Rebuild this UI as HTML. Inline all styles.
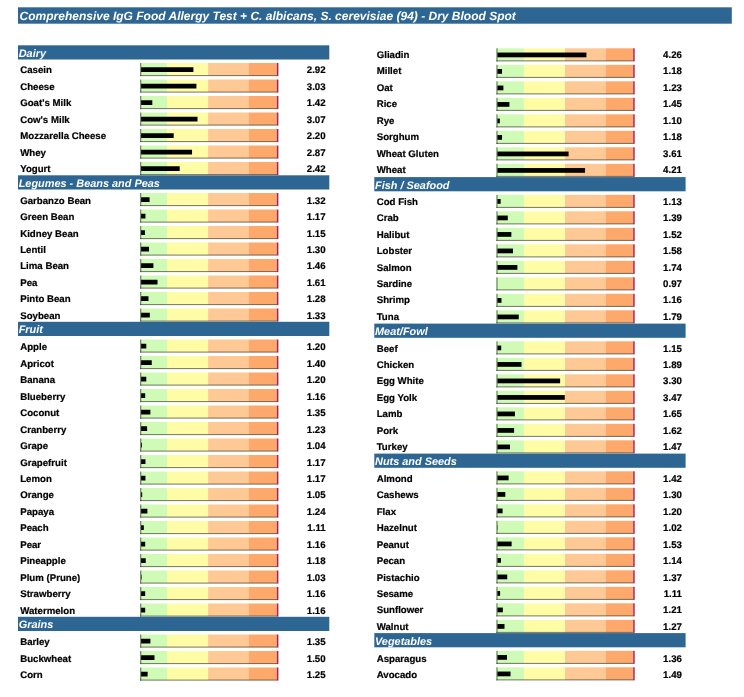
<!DOCTYPE html>
<html lang="en"><head><meta charset="utf-8"><title>Comprehensive IgG Food Allergy Test</title>
<style>
html,body{margin:0;padding:0;background:#fff;}
body{width:744px;height:697px;overflow:hidden;}
svg{display:block;position:absolute;left:0;top:0;font-family:"Liberation Sans",Arial,sans-serif;font-weight:bold;text-rendering:geometricPrecision;}
.t{font-size:12.0px;font-style:italic;fill:#fff;}
.h{font-size:10.92px;font-style:italic;fill:#fff;}
.l{font-size:9.67px;fill:#000;stroke:#000;stroke-width:0.2px;}
.v{font-size:9.67px;fill:#000;text-anchor:end;stroke:#000;stroke-width:0.2px;}
</style></head>
<body>
<svg width="744" height="697" viewBox="0 0 744 697">
<rect x="18" y="7.3" width="713.8" height="16.4" fill="#2e6693"/>
<text class="t" x="19.6" y="20">Comprehensive IgG Food Allergy Test + C. albicans, S. cerevisiae (94) - Dry Blood Spot</text>
<rect x="18.0" y="45.30" width="311.3" height="14.2" fill="#2e6693"/>
<text class="h" x="18.7" y="57">Dairy</text>
<rect x="140.4" y="63.00" width="26.65" height="12.60" fill="#d0fbb7"/><rect x="167.0" y="63.00" width="41.10" height="12.60" fill="#fffca6"/><rect x="208.1" y="63.00" width="40.90" height="12.60" fill="#fec994"/><rect x="248.9" y="63.00" width="28.15" height="12.60" fill="#fea96c"/><rect x="276.9" y="63.00" width="1.5" height="13.10" fill="#a4245f"/><rect x="140.0" y="75.10" width="137.0" height="1" fill="rgba(20,20,10,0.58)"/><rect x="140.0" y="63.00" width="1.3" height="13.10" fill="rgba(30,50,20,0.55)"/><rect x="141.1" y="67.25" width="52.31" height="4.75" fill="#000"/>
<text class="l" x="20.2" y="73">Casein</text>
<text class="v" x="325.6" y="73">2.92</text>
<rect x="140.4" y="79.50" width="26.65" height="12.60" fill="#d0fbb7"/><rect x="167.0" y="79.50" width="41.10" height="12.60" fill="#fffca6"/><rect x="208.1" y="79.50" width="40.90" height="12.60" fill="#fec994"/><rect x="248.9" y="79.50" width="28.15" height="12.60" fill="#fea96c"/><rect x="276.9" y="79.50" width="1.5" height="13.10" fill="#a4245f"/><rect x="140.0" y="91.60" width="137.0" height="1" fill="rgba(20,20,10,0.58)"/><rect x="140.0" y="79.50" width="1.3" height="13.10" fill="rgba(30,50,20,0.55)"/><rect x="141.1" y="83.75" width="55.32" height="4.75" fill="#000"/>
<text class="l" x="20.2" y="90">Cheese</text>
<text class="v" x="325.6" y="90">3.03</text>
<rect x="140.4" y="96.00" width="26.65" height="12.60" fill="#d0fbb7"/><rect x="167.0" y="96.00" width="41.10" height="12.60" fill="#fffca6"/><rect x="208.1" y="96.00" width="40.90" height="12.60" fill="#fec994"/><rect x="248.9" y="96.00" width="28.15" height="12.60" fill="#fea96c"/><rect x="276.9" y="96.00" width="1.5" height="13.10" fill="#a4245f"/><rect x="140.0" y="108.10" width="137.0" height="1" fill="rgba(20,20,10,0.58)"/><rect x="140.0" y="96.00" width="1.3" height="13.10" fill="rgba(30,50,20,0.55)"/><rect x="141.1" y="100.25" width="11.21" height="4.75" fill="#000"/>
<text class="l" x="20.2" y="106">Goat's Milk</text>
<text class="v" x="325.6" y="106">1.42</text>
<rect x="140.4" y="112.50" width="26.65" height="12.60" fill="#d0fbb7"/><rect x="167.0" y="112.50" width="41.10" height="12.60" fill="#fffca6"/><rect x="208.1" y="112.50" width="40.90" height="12.60" fill="#fec994"/><rect x="248.9" y="112.50" width="28.15" height="12.60" fill="#fea96c"/><rect x="276.9" y="112.50" width="1.5" height="13.10" fill="#a4245f"/><rect x="140.0" y="124.60" width="137.0" height="1" fill="rgba(20,20,10,0.58)"/><rect x="140.0" y="112.50" width="1.3" height="13.10" fill="rgba(30,50,20,0.55)"/><rect x="141.1" y="116.75" width="56.42" height="4.75" fill="#000"/>
<text class="l" x="20.2" y="123">Cow's Milk</text>
<text class="v" x="325.6" y="123">3.07</text>
<rect x="140.4" y="129.00" width="26.65" height="12.60" fill="#d0fbb7"/><rect x="167.0" y="129.00" width="41.10" height="12.60" fill="#fffca6"/><rect x="208.1" y="129.00" width="40.90" height="12.60" fill="#fec994"/><rect x="248.9" y="129.00" width="28.15" height="12.60" fill="#fea96c"/><rect x="276.9" y="129.00" width="1.5" height="13.10" fill="#a4245f"/><rect x="140.0" y="141.10" width="137.0" height="1" fill="rgba(20,20,10,0.58)"/><rect x="140.0" y="129.00" width="1.3" height="13.10" fill="rgba(30,50,20,0.55)"/><rect x="141.1" y="133.25" width="32.58" height="4.75" fill="#000"/>
<text class="l" x="20.2" y="139">Mozzarella Cheese</text>
<text class="v" x="325.6" y="139">2.20</text>
<rect x="140.4" y="145.50" width="26.65" height="12.60" fill="#d0fbb7"/><rect x="167.0" y="145.50" width="41.10" height="12.60" fill="#fffca6"/><rect x="208.1" y="145.50" width="40.90" height="12.60" fill="#fec994"/><rect x="248.9" y="145.50" width="28.15" height="12.60" fill="#fea96c"/><rect x="276.9" y="145.50" width="1.5" height="13.10" fill="#a4245f"/><rect x="140.0" y="157.60" width="137.0" height="1" fill="rgba(20,20,10,0.58)"/><rect x="140.0" y="145.50" width="1.3" height="13.10" fill="rgba(30,50,20,0.55)"/><rect x="141.1" y="149.75" width="50.94" height="4.75" fill="#000"/>
<text class="l" x="20.2" y="156">Whey</text>
<text class="v" x="325.6" y="156">2.87</text>
<rect x="140.4" y="162.00" width="26.65" height="12.60" fill="#d0fbb7"/><rect x="167.0" y="162.00" width="41.10" height="12.60" fill="#fffca6"/><rect x="208.1" y="162.00" width="40.90" height="12.60" fill="#fec994"/><rect x="248.9" y="162.00" width="28.15" height="12.60" fill="#fea96c"/><rect x="276.9" y="162.00" width="1.5" height="13.10" fill="#a4245f"/><rect x="140.0" y="174.10" width="137.0" height="1" fill="rgba(20,20,10,0.58)"/><rect x="140.0" y="162.00" width="1.3" height="13.10" fill="rgba(30,50,20,0.55)"/><rect x="141.1" y="166.25" width="38.61" height="4.75" fill="#000"/>
<text class="l" x="20.2" y="172">Yogurt</text>
<text class="v" x="325.6" y="172">2.42</text>
<rect x="18.0" y="175.30" width="311.3" height="14.2" fill="#2e6693"/>
<text class="h" x="18.7" y="187">Legumes - Beans and Peas</text>
<rect x="140.4" y="193.00" width="26.65" height="12.60" fill="#d0fbb7"/><rect x="167.0" y="193.00" width="41.10" height="12.60" fill="#fffca6"/><rect x="208.1" y="193.00" width="40.90" height="12.60" fill="#fec994"/><rect x="248.9" y="193.00" width="28.15" height="12.60" fill="#fea96c"/><rect x="276.9" y="193.00" width="1.5" height="13.10" fill="#a4245f"/><rect x="140.0" y="205.10" width="137.0" height="1" fill="rgba(20,20,10,0.58)"/><rect x="140.0" y="193.00" width="1.3" height="13.10" fill="rgba(30,50,20,0.55)"/><rect x="141.1" y="197.25" width="8.47" height="4.75" fill="#000"/>
<text class="l" x="20.2" y="204">Garbanzo Bean</text>
<text class="v" x="325.6" y="204">1.32</text>
<rect x="140.4" y="209.50" width="26.65" height="12.60" fill="#d0fbb7"/><rect x="167.0" y="209.50" width="41.10" height="12.60" fill="#fffca6"/><rect x="208.1" y="209.50" width="40.90" height="12.60" fill="#fec994"/><rect x="248.9" y="209.50" width="28.15" height="12.60" fill="#fea96c"/><rect x="276.9" y="209.50" width="1.5" height="13.10" fill="#a4245f"/><rect x="140.0" y="221.60" width="137.0" height="1" fill="rgba(20,20,10,0.58)"/><rect x="140.0" y="209.50" width="1.3" height="13.10" fill="rgba(30,50,20,0.55)"/><rect x="141.1" y="213.75" width="4.36" height="4.75" fill="#000"/>
<text class="l" x="20.2" y="220">Green Bean</text>
<text class="v" x="325.6" y="220">1.17</text>
<rect x="140.4" y="226.00" width="26.65" height="12.60" fill="#d0fbb7"/><rect x="167.0" y="226.00" width="41.10" height="12.60" fill="#fffca6"/><rect x="208.1" y="226.00" width="40.90" height="12.60" fill="#fec994"/><rect x="248.9" y="226.00" width="28.15" height="12.60" fill="#fea96c"/><rect x="276.9" y="226.00" width="1.5" height="13.10" fill="#a4245f"/><rect x="140.0" y="238.10" width="137.0" height="1" fill="rgba(20,20,10,0.58)"/><rect x="140.0" y="226.00" width="1.3" height="13.10" fill="rgba(30,50,20,0.55)"/><rect x="141.1" y="230.25" width="3.81" height="4.75" fill="#000"/>
<text class="l" x="20.2" y="237">Kidney Bean</text>
<text class="v" x="325.6" y="237">1.15</text>
<rect x="140.4" y="242.50" width="26.65" height="12.60" fill="#d0fbb7"/><rect x="167.0" y="242.50" width="41.10" height="12.60" fill="#fffca6"/><rect x="208.1" y="242.50" width="40.90" height="12.60" fill="#fec994"/><rect x="248.9" y="242.50" width="28.15" height="12.60" fill="#fea96c"/><rect x="276.9" y="242.50" width="1.5" height="13.10" fill="#a4245f"/><rect x="140.0" y="254.60" width="137.0" height="1" fill="rgba(20,20,10,0.58)"/><rect x="140.0" y="242.50" width="1.3" height="13.10" fill="rgba(30,50,20,0.55)"/><rect x="141.1" y="246.75" width="7.92" height="4.75" fill="#000"/>
<text class="l" x="20.2" y="253">Lentil</text>
<text class="v" x="325.6" y="253">1.30</text>
<rect x="140.4" y="259.00" width="26.65" height="12.60" fill="#d0fbb7"/><rect x="167.0" y="259.00" width="41.10" height="12.60" fill="#fffca6"/><rect x="208.1" y="259.00" width="40.90" height="12.60" fill="#fec994"/><rect x="248.9" y="259.00" width="28.15" height="12.60" fill="#fea96c"/><rect x="276.9" y="259.00" width="1.5" height="13.10" fill="#a4245f"/><rect x="140.0" y="271.10" width="137.0" height="1" fill="rgba(20,20,10,0.58)"/><rect x="140.0" y="259.00" width="1.3" height="13.10" fill="rgba(30,50,20,0.55)"/><rect x="141.1" y="263.25" width="12.30" height="4.75" fill="#000"/>
<text class="l" x="20.2" y="269">Lima Bean</text>
<text class="v" x="325.6" y="269">1.46</text>
<rect x="140.4" y="275.50" width="26.65" height="12.60" fill="#d0fbb7"/><rect x="167.0" y="275.50" width="41.10" height="12.60" fill="#fffca6"/><rect x="208.1" y="275.50" width="40.90" height="12.60" fill="#fec994"/><rect x="248.9" y="275.50" width="28.15" height="12.60" fill="#fea96c"/><rect x="276.9" y="275.50" width="1.5" height="13.10" fill="#a4245f"/><rect x="140.0" y="287.60" width="137.0" height="1" fill="rgba(20,20,10,0.58)"/><rect x="140.0" y="275.50" width="1.3" height="13.10" fill="rgba(30,50,20,0.55)"/><rect x="141.1" y="279.75" width="16.41" height="4.75" fill="#000"/>
<text class="l" x="20.2" y="286">Pea</text>
<text class="v" x="325.6" y="286">1.61</text>
<rect x="140.4" y="292.00" width="26.65" height="12.60" fill="#d0fbb7"/><rect x="167.0" y="292.00" width="41.10" height="12.60" fill="#fffca6"/><rect x="208.1" y="292.00" width="40.90" height="12.60" fill="#fec994"/><rect x="248.9" y="292.00" width="28.15" height="12.60" fill="#fea96c"/><rect x="276.9" y="292.00" width="1.5" height="13.10" fill="#a4245f"/><rect x="140.0" y="304.10" width="137.0" height="1" fill="rgba(20,20,10,0.58)"/><rect x="140.0" y="292.00" width="1.3" height="13.10" fill="rgba(30,50,20,0.55)"/><rect x="141.1" y="296.25" width="7.37" height="4.75" fill="#000"/>
<text class="l" x="20.2" y="302">Pinto Bean</text>
<text class="v" x="325.6" y="302">1.28</text>
<rect x="140.4" y="308.50" width="26.65" height="12.60" fill="#d0fbb7"/><rect x="167.0" y="308.50" width="41.10" height="12.60" fill="#fffca6"/><rect x="208.1" y="308.50" width="40.90" height="12.60" fill="#fec994"/><rect x="248.9" y="308.50" width="28.15" height="12.60" fill="#fea96c"/><rect x="276.9" y="308.50" width="1.5" height="13.10" fill="#a4245f"/><rect x="140.0" y="320.60" width="137.0" height="1" fill="rgba(20,20,10,0.58)"/><rect x="140.0" y="308.50" width="1.3" height="13.10" fill="rgba(30,50,20,0.55)"/><rect x="141.1" y="312.75" width="8.74" height="4.75" fill="#000"/>
<text class="l" x="20.2" y="319">Soybean</text>
<text class="v" x="325.6" y="319">1.33</text>
<rect x="18.0" y="321.80" width="311.3" height="14.2" fill="#2e6693"/>
<text class="h" x="18.7" y="333">Fruit</text>
<rect x="140.4" y="339.50" width="26.65" height="12.60" fill="#d0fbb7"/><rect x="167.0" y="339.50" width="41.10" height="12.60" fill="#fffca6"/><rect x="208.1" y="339.50" width="40.90" height="12.60" fill="#fec994"/><rect x="248.9" y="339.50" width="28.15" height="12.60" fill="#fea96c"/><rect x="276.9" y="339.50" width="1.5" height="13.10" fill="#a4245f"/><rect x="140.0" y="351.60" width="137.0" height="1" fill="rgba(20,20,10,0.58)"/><rect x="140.0" y="339.50" width="1.3" height="13.10" fill="rgba(30,50,20,0.55)"/><rect x="141.1" y="343.75" width="5.18" height="4.75" fill="#000"/>
<text class="l" x="20.2" y="350">Apple</text>
<text class="v" x="325.6" y="350">1.20</text>
<rect x="140.4" y="356.00" width="26.65" height="12.60" fill="#d0fbb7"/><rect x="167.0" y="356.00" width="41.10" height="12.60" fill="#fffca6"/><rect x="208.1" y="356.00" width="40.90" height="12.60" fill="#fec994"/><rect x="248.9" y="356.00" width="28.15" height="12.60" fill="#fea96c"/><rect x="276.9" y="356.00" width="1.5" height="13.10" fill="#a4245f"/><rect x="140.0" y="368.10" width="137.0" height="1" fill="rgba(20,20,10,0.58)"/><rect x="140.0" y="356.00" width="1.3" height="13.10" fill="rgba(30,50,20,0.55)"/><rect x="141.1" y="360.25" width="10.66" height="4.75" fill="#000"/>
<text class="l" x="20.2" y="367">Apricot</text>
<text class="v" x="325.6" y="367">1.40</text>
<rect x="140.4" y="372.50" width="26.65" height="12.60" fill="#d0fbb7"/><rect x="167.0" y="372.50" width="41.10" height="12.60" fill="#fffca6"/><rect x="208.1" y="372.50" width="40.90" height="12.60" fill="#fec994"/><rect x="248.9" y="372.50" width="28.15" height="12.60" fill="#fea96c"/><rect x="276.9" y="372.50" width="1.5" height="13.10" fill="#a4245f"/><rect x="140.0" y="384.60" width="137.0" height="1" fill="rgba(20,20,10,0.58)"/><rect x="140.0" y="372.50" width="1.3" height="13.10" fill="rgba(30,50,20,0.55)"/><rect x="141.1" y="376.75" width="5.18" height="4.75" fill="#000"/>
<text class="l" x="20.2" y="383">Banana</text>
<text class="v" x="325.6" y="383">1.20</text>
<rect x="140.4" y="389.00" width="26.65" height="12.60" fill="#d0fbb7"/><rect x="167.0" y="389.00" width="41.10" height="12.60" fill="#fffca6"/><rect x="208.1" y="389.00" width="40.90" height="12.60" fill="#fec994"/><rect x="248.9" y="389.00" width="28.15" height="12.60" fill="#fea96c"/><rect x="276.9" y="389.00" width="1.5" height="13.10" fill="#a4245f"/><rect x="140.0" y="401.10" width="137.0" height="1" fill="rgba(20,20,10,0.58)"/><rect x="140.0" y="389.00" width="1.3" height="13.10" fill="rgba(30,50,20,0.55)"/><rect x="141.1" y="393.25" width="4.08" height="4.75" fill="#000"/>
<text class="l" x="20.2" y="400">Blueberry</text>
<text class="v" x="325.6" y="400">1.16</text>
<rect x="140.4" y="405.50" width="26.65" height="12.60" fill="#d0fbb7"/><rect x="167.0" y="405.50" width="41.10" height="12.60" fill="#fffca6"/><rect x="208.1" y="405.50" width="40.90" height="12.60" fill="#fec994"/><rect x="248.9" y="405.50" width="28.15" height="12.60" fill="#fea96c"/><rect x="276.9" y="405.50" width="1.5" height="13.10" fill="#a4245f"/><rect x="140.0" y="417.60" width="137.0" height="1" fill="rgba(20,20,10,0.58)"/><rect x="140.0" y="405.50" width="1.3" height="13.10" fill="rgba(30,50,20,0.55)"/><rect x="141.1" y="409.75" width="9.29" height="4.75" fill="#000"/>
<text class="l" x="20.2" y="416">Coconut</text>
<text class="v" x="325.6" y="416">1.35</text>
<rect x="140.4" y="422.00" width="26.65" height="12.60" fill="#d0fbb7"/><rect x="167.0" y="422.00" width="41.10" height="12.60" fill="#fffca6"/><rect x="208.1" y="422.00" width="40.90" height="12.60" fill="#fec994"/><rect x="248.9" y="422.00" width="28.15" height="12.60" fill="#fea96c"/><rect x="276.9" y="422.00" width="1.5" height="13.10" fill="#a4245f"/><rect x="140.0" y="434.10" width="137.0" height="1" fill="rgba(20,20,10,0.58)"/><rect x="140.0" y="422.00" width="1.3" height="13.10" fill="rgba(30,50,20,0.55)"/><rect x="141.1" y="426.25" width="6.00" height="4.75" fill="#000"/>
<text class="l" x="20.2" y="433">Cranberry</text>
<text class="v" x="325.6" y="433">1.23</text>
<rect x="140.4" y="438.50" width="26.65" height="12.60" fill="#d0fbb7"/><rect x="167.0" y="438.50" width="41.10" height="12.60" fill="#fffca6"/><rect x="208.1" y="438.50" width="40.90" height="12.60" fill="#fec994"/><rect x="248.9" y="438.50" width="28.15" height="12.60" fill="#fea96c"/><rect x="276.9" y="438.50" width="1.5" height="13.10" fill="#a4245f"/><rect x="140.0" y="450.60" width="137.0" height="1" fill="rgba(20,20,10,0.58)"/><rect x="140.0" y="438.50" width="1.3" height="13.10" fill="rgba(30,50,20,0.55)"/><rect x="141.1" y="442.75" width="0.80" height="4.75" fill="#000"/>
<text class="l" x="20.2" y="449">Grape</text>
<text class="v" x="325.6" y="449">1.04</text>
<rect x="140.4" y="455.00" width="26.65" height="12.60" fill="#d0fbb7"/><rect x="167.0" y="455.00" width="41.10" height="12.60" fill="#fffca6"/><rect x="208.1" y="455.00" width="40.90" height="12.60" fill="#fec994"/><rect x="248.9" y="455.00" width="28.15" height="12.60" fill="#fea96c"/><rect x="276.9" y="455.00" width="1.5" height="13.10" fill="#a4245f"/><rect x="140.0" y="467.10" width="137.0" height="1" fill="rgba(20,20,10,0.58)"/><rect x="140.0" y="455.00" width="1.3" height="13.10" fill="rgba(30,50,20,0.55)"/><rect x="141.1" y="459.25" width="4.36" height="4.75" fill="#000"/>
<text class="l" x="20.2" y="466">Grapefruit</text>
<text class="v" x="325.6" y="466">1.17</text>
<rect x="140.4" y="471.50" width="26.65" height="12.60" fill="#d0fbb7"/><rect x="167.0" y="471.50" width="41.10" height="12.60" fill="#fffca6"/><rect x="208.1" y="471.50" width="40.90" height="12.60" fill="#fec994"/><rect x="248.9" y="471.50" width="28.15" height="12.60" fill="#fea96c"/><rect x="276.9" y="471.50" width="1.5" height="13.10" fill="#a4245f"/><rect x="140.0" y="483.60" width="137.0" height="1" fill="rgba(20,20,10,0.58)"/><rect x="140.0" y="471.50" width="1.3" height="13.10" fill="rgba(30,50,20,0.55)"/><rect x="141.1" y="475.75" width="4.36" height="4.75" fill="#000"/>
<text class="l" x="20.2" y="482">Lemon</text>
<text class="v" x="325.6" y="482">1.17</text>
<rect x="140.4" y="488.00" width="26.65" height="12.60" fill="#d0fbb7"/><rect x="167.0" y="488.00" width="41.10" height="12.60" fill="#fffca6"/><rect x="208.1" y="488.00" width="40.90" height="12.60" fill="#fec994"/><rect x="248.9" y="488.00" width="28.15" height="12.60" fill="#fea96c"/><rect x="276.9" y="488.00" width="1.5" height="13.10" fill="#a4245f"/><rect x="140.0" y="500.10" width="137.0" height="1" fill="rgba(20,20,10,0.58)"/><rect x="140.0" y="488.00" width="1.3" height="13.10" fill="rgba(30,50,20,0.55)"/><rect x="141.1" y="492.25" width="1.07" height="4.75" fill="#000"/>
<text class="l" x="20.2" y="498">Orange</text>
<text class="v" x="325.6" y="498">1.05</text>
<rect x="140.4" y="504.50" width="26.65" height="12.60" fill="#d0fbb7"/><rect x="167.0" y="504.50" width="41.10" height="12.60" fill="#fffca6"/><rect x="208.1" y="504.50" width="40.90" height="12.60" fill="#fec994"/><rect x="248.9" y="504.50" width="28.15" height="12.60" fill="#fea96c"/><rect x="276.9" y="504.50" width="1.5" height="13.10" fill="#a4245f"/><rect x="140.0" y="516.60" width="137.0" height="1" fill="rgba(20,20,10,0.58)"/><rect x="140.0" y="504.50" width="1.3" height="13.10" fill="rgba(30,50,20,0.55)"/><rect x="141.1" y="508.75" width="6.28" height="4.75" fill="#000"/>
<text class="l" x="20.2" y="515">Papaya</text>
<text class="v" x="325.6" y="515">1.24</text>
<rect x="140.4" y="521.00" width="26.65" height="12.60" fill="#d0fbb7"/><rect x="167.0" y="521.00" width="41.10" height="12.60" fill="#fffca6"/><rect x="208.1" y="521.00" width="40.90" height="12.60" fill="#fec994"/><rect x="248.9" y="521.00" width="28.15" height="12.60" fill="#fea96c"/><rect x="276.9" y="521.00" width="1.5" height="13.10" fill="#a4245f"/><rect x="140.0" y="533.10" width="137.0" height="1" fill="rgba(20,20,10,0.58)"/><rect x="140.0" y="521.00" width="1.3" height="13.10" fill="rgba(30,50,20,0.55)"/><rect x="141.1" y="525.25" width="2.71" height="4.75" fill="#000"/>
<text class="l" x="20.2" y="531">Peach</text>
<text class="v" x="325.6" y="531">1.11</text>
<rect x="140.4" y="537.50" width="26.65" height="12.60" fill="#d0fbb7"/><rect x="167.0" y="537.50" width="41.10" height="12.60" fill="#fffca6"/><rect x="208.1" y="537.50" width="40.90" height="12.60" fill="#fec994"/><rect x="248.9" y="537.50" width="28.15" height="12.60" fill="#fea96c"/><rect x="276.9" y="537.50" width="1.5" height="13.10" fill="#a4245f"/><rect x="140.0" y="549.60" width="137.0" height="1" fill="rgba(20,20,10,0.58)"/><rect x="140.0" y="537.50" width="1.3" height="13.10" fill="rgba(30,50,20,0.55)"/><rect x="141.1" y="541.75" width="4.08" height="4.75" fill="#000"/>
<text class="l" x="20.2" y="548">Pear</text>
<text class="v" x="325.6" y="548">1.16</text>
<rect x="140.4" y="554.00" width="26.65" height="12.60" fill="#d0fbb7"/><rect x="167.0" y="554.00" width="41.10" height="12.60" fill="#fffca6"/><rect x="208.1" y="554.00" width="40.90" height="12.60" fill="#fec994"/><rect x="248.9" y="554.00" width="28.15" height="12.60" fill="#fea96c"/><rect x="276.9" y="554.00" width="1.5" height="13.10" fill="#a4245f"/><rect x="140.0" y="566.10" width="137.0" height="1" fill="rgba(20,20,10,0.58)"/><rect x="140.0" y="554.00" width="1.3" height="13.10" fill="rgba(30,50,20,0.55)"/><rect x="141.1" y="558.25" width="4.63" height="4.75" fill="#000"/>
<text class="l" x="20.2" y="564">Pineapple</text>
<text class="v" x="325.6" y="564">1.18</text>
<rect x="140.4" y="570.50" width="26.65" height="12.60" fill="#d0fbb7"/><rect x="167.0" y="570.50" width="41.10" height="12.60" fill="#fffca6"/><rect x="208.1" y="570.50" width="40.90" height="12.60" fill="#fec994"/><rect x="248.9" y="570.50" width="28.15" height="12.60" fill="#fea96c"/><rect x="276.9" y="570.50" width="1.5" height="13.10" fill="#a4245f"/><rect x="140.0" y="582.60" width="137.0" height="1" fill="rgba(20,20,10,0.58)"/><rect x="140.0" y="570.50" width="1.3" height="13.10" fill="rgba(30,50,20,0.55)"/><rect x="141.1" y="574.75" width="0.52" height="4.75" fill="#000"/>
<text class="l" x="20.2" y="581">Plum (Prune)</text>
<text class="v" x="325.6" y="581">1.03</text>
<rect x="140.4" y="587.00" width="26.65" height="12.60" fill="#d0fbb7"/><rect x="167.0" y="587.00" width="41.10" height="12.60" fill="#fffca6"/><rect x="208.1" y="587.00" width="40.90" height="12.60" fill="#fec994"/><rect x="248.9" y="587.00" width="28.15" height="12.60" fill="#fea96c"/><rect x="276.9" y="587.00" width="1.5" height="13.10" fill="#a4245f"/><rect x="140.0" y="599.10" width="137.0" height="1" fill="rgba(20,20,10,0.58)"/><rect x="140.0" y="587.00" width="1.3" height="13.10" fill="rgba(30,50,20,0.55)"/><rect x="141.1" y="591.25" width="4.08" height="4.75" fill="#000"/>
<text class="l" x="20.2" y="597">Strawberry</text>
<text class="v" x="325.6" y="597">1.16</text>
<rect x="140.4" y="603.50" width="26.65" height="12.60" fill="#d0fbb7"/><rect x="167.0" y="603.50" width="41.10" height="12.60" fill="#fffca6"/><rect x="208.1" y="603.50" width="40.90" height="12.60" fill="#fec994"/><rect x="248.9" y="603.50" width="28.15" height="12.60" fill="#fea96c"/><rect x="276.9" y="603.50" width="1.5" height="13.10" fill="#a4245f"/><rect x="140.0" y="615.60" width="137.0" height="1" fill="rgba(20,20,10,0.58)"/><rect x="140.0" y="603.50" width="1.3" height="13.10" fill="rgba(30,50,20,0.55)"/><rect x="141.1" y="607.75" width="4.08" height="4.75" fill="#000"/>
<text class="l" x="20.2" y="614">Watermelon</text>
<text class="v" x="325.6" y="614">1.16</text>
<rect x="18.0" y="616.80" width="311.3" height="14.2" fill="#2e6693"/>
<text class="h" x="18.7" y="628">Grains</text>
<rect x="140.4" y="634.50" width="26.65" height="12.60" fill="#d0fbb7"/><rect x="167.0" y="634.50" width="41.10" height="12.60" fill="#fffca6"/><rect x="208.1" y="634.50" width="40.90" height="12.60" fill="#fec994"/><rect x="248.9" y="634.50" width="28.15" height="12.60" fill="#fea96c"/><rect x="276.9" y="634.50" width="1.5" height="13.10" fill="#a4245f"/><rect x="140.0" y="646.60" width="137.0" height="1" fill="rgba(20,20,10,0.58)"/><rect x="140.0" y="634.50" width="1.3" height="13.10" fill="rgba(30,50,20,0.55)"/><rect x="141.1" y="638.75" width="9.29" height="4.75" fill="#000"/>
<text class="l" x="20.2" y="645">Barley</text>
<text class="v" x="325.6" y="645">1.35</text>
<rect x="140.4" y="651.00" width="26.65" height="12.60" fill="#d0fbb7"/><rect x="167.0" y="651.00" width="41.10" height="12.60" fill="#fffca6"/><rect x="208.1" y="651.00" width="40.90" height="12.60" fill="#fec994"/><rect x="248.9" y="651.00" width="28.15" height="12.60" fill="#fea96c"/><rect x="276.9" y="651.00" width="1.5" height="13.10" fill="#a4245f"/><rect x="140.0" y="663.10" width="137.0" height="1" fill="rgba(20,20,10,0.58)"/><rect x="140.0" y="651.00" width="1.3" height="13.10" fill="rgba(30,50,20,0.55)"/><rect x="141.1" y="655.25" width="13.40" height="4.75" fill="#000"/>
<text class="l" x="20.2" y="662">Buckwheat</text>
<text class="v" x="325.6" y="662">1.50</text>
<rect x="140.4" y="667.50" width="26.65" height="12.60" fill="#d0fbb7"/><rect x="167.0" y="667.50" width="41.10" height="12.60" fill="#fffca6"/><rect x="208.1" y="667.50" width="40.90" height="12.60" fill="#fec994"/><rect x="248.9" y="667.50" width="28.15" height="12.60" fill="#fea96c"/><rect x="276.9" y="667.50" width="1.5" height="13.10" fill="#a4245f"/><rect x="140.0" y="679.60" width="137.0" height="1" fill="rgba(20,20,10,0.58)"/><rect x="140.0" y="667.50" width="1.3" height="13.10" fill="rgba(30,50,20,0.55)"/><rect x="141.1" y="671.75" width="6.55" height="4.75" fill="#000"/>
<text class="l" x="20.2" y="678">Corn</text>
<text class="v" x="325.6" y="678">1.25</text>
<rect x="496.7" y="48.30" width="27.25" height="12.60" fill="#d0fbb7"/><rect x="523.9" y="48.30" width="41.10" height="12.60" fill="#fffca6"/><rect x="565.0" y="48.30" width="40.90" height="12.60" fill="#fec994"/><rect x="605.8" y="48.30" width="27.55" height="12.60" fill="#fea96c"/><rect x="633.2" y="48.30" width="1.5" height="13.10" fill="#a4245f"/><rect x="496.3" y="60.40" width="137.0" height="1" fill="rgba(20,20,10,0.58)"/><rect x="496.3" y="48.30" width="1.3" height="13.10" fill="rgba(30,50,20,0.55)"/><rect x="497.4" y="52.55" width="89.02" height="4.75" fill="#000"/>
<text class="l" x="376.7" y="58">Gliadin</text>
<text class="v" x="681.9" y="58">4.26</text>
<rect x="496.7" y="64.80" width="27.25" height="12.60" fill="#d0fbb7"/><rect x="523.9" y="64.80" width="41.10" height="12.60" fill="#fffca6"/><rect x="565.0" y="64.80" width="40.90" height="12.60" fill="#fec994"/><rect x="605.8" y="64.80" width="27.55" height="12.60" fill="#fea96c"/><rect x="633.2" y="64.80" width="1.5" height="13.10" fill="#a4245f"/><rect x="496.3" y="76.90" width="137.0" height="1" fill="rgba(20,20,10,0.58)"/><rect x="496.3" y="64.80" width="1.3" height="13.10" fill="rgba(30,50,20,0.55)"/><rect x="497.4" y="69.05" width="4.63" height="4.75" fill="#000"/>
<text class="l" x="376.7" y="74">Millet</text>
<text class="v" x="681.9" y="74">1.18</text>
<rect x="496.7" y="81.30" width="27.25" height="12.60" fill="#d0fbb7"/><rect x="523.9" y="81.30" width="41.10" height="12.60" fill="#fffca6"/><rect x="565.0" y="81.30" width="40.90" height="12.60" fill="#fec994"/><rect x="605.8" y="81.30" width="27.55" height="12.60" fill="#fea96c"/><rect x="633.2" y="81.30" width="1.5" height="13.10" fill="#a4245f"/><rect x="496.3" y="93.40" width="137.0" height="1" fill="rgba(20,20,10,0.58)"/><rect x="496.3" y="81.30" width="1.3" height="13.10" fill="rgba(30,50,20,0.55)"/><rect x="497.4" y="85.55" width="6.00" height="4.75" fill="#000"/>
<text class="l" x="376.7" y="91">Oat</text>
<text class="v" x="681.9" y="91">1.23</text>
<rect x="496.7" y="97.80" width="27.25" height="12.60" fill="#d0fbb7"/><rect x="523.9" y="97.80" width="41.10" height="12.60" fill="#fffca6"/><rect x="565.0" y="97.80" width="40.90" height="12.60" fill="#fec994"/><rect x="605.8" y="97.80" width="27.55" height="12.60" fill="#fea96c"/><rect x="633.2" y="97.80" width="1.5" height="13.10" fill="#a4245f"/><rect x="496.3" y="109.90" width="137.0" height="1" fill="rgba(20,20,10,0.58)"/><rect x="496.3" y="97.80" width="1.3" height="13.10" fill="rgba(30,50,20,0.55)"/><rect x="497.4" y="102.05" width="12.03" height="4.75" fill="#000"/>
<text class="l" x="376.7" y="107">Rice</text>
<text class="v" x="681.9" y="107">1.45</text>
<rect x="496.7" y="114.30" width="27.25" height="12.60" fill="#d0fbb7"/><rect x="523.9" y="114.30" width="41.10" height="12.60" fill="#fffca6"/><rect x="565.0" y="114.30" width="40.90" height="12.60" fill="#fec994"/><rect x="605.8" y="114.30" width="27.55" height="12.60" fill="#fea96c"/><rect x="633.2" y="114.30" width="1.5" height="13.10" fill="#a4245f"/><rect x="496.3" y="126.40" width="137.0" height="1" fill="rgba(20,20,10,0.58)"/><rect x="496.3" y="114.30" width="1.3" height="13.10" fill="rgba(30,50,20,0.55)"/><rect x="497.4" y="118.55" width="2.44" height="4.75" fill="#000"/>
<text class="l" x="376.7" y="124">Rye</text>
<text class="v" x="681.9" y="124">1.10</text>
<rect x="496.7" y="130.80" width="27.25" height="12.60" fill="#d0fbb7"/><rect x="523.9" y="130.80" width="41.10" height="12.60" fill="#fffca6"/><rect x="565.0" y="130.80" width="40.90" height="12.60" fill="#fec994"/><rect x="605.8" y="130.80" width="27.55" height="12.60" fill="#fea96c"/><rect x="633.2" y="130.80" width="1.5" height="13.10" fill="#a4245f"/><rect x="496.3" y="142.90" width="137.0" height="1" fill="rgba(20,20,10,0.58)"/><rect x="496.3" y="130.80" width="1.3" height="13.10" fill="rgba(30,50,20,0.55)"/><rect x="497.4" y="135.05" width="4.63" height="4.75" fill="#000"/>
<text class="l" x="376.7" y="140">Sorghum</text>
<text class="v" x="681.9" y="140">1.18</text>
<rect x="496.7" y="147.30" width="27.25" height="12.60" fill="#d0fbb7"/><rect x="523.9" y="147.30" width="41.10" height="12.60" fill="#fffca6"/><rect x="565.0" y="147.30" width="40.90" height="12.60" fill="#fec994"/><rect x="605.8" y="147.30" width="27.55" height="12.60" fill="#fea96c"/><rect x="633.2" y="147.30" width="1.5" height="13.10" fill="#a4245f"/><rect x="496.3" y="159.40" width="137.0" height="1" fill="rgba(20,20,10,0.58)"/><rect x="496.3" y="147.30" width="1.3" height="13.10" fill="rgba(30,50,20,0.55)"/><rect x="497.4" y="151.55" width="71.21" height="4.75" fill="#000"/>
<text class="l" x="376.7" y="157">Wheat Gluten</text>
<text class="v" x="681.9" y="157">3.61</text>
<rect x="496.7" y="163.80" width="27.25" height="12.60" fill="#d0fbb7"/><rect x="523.9" y="163.80" width="41.10" height="12.60" fill="#fffca6"/><rect x="565.0" y="163.80" width="40.90" height="12.60" fill="#fec994"/><rect x="605.8" y="163.80" width="27.55" height="12.60" fill="#fea96c"/><rect x="633.2" y="163.80" width="1.5" height="13.10" fill="#a4245f"/><rect x="496.3" y="175.90" width="137.0" height="1" fill="rgba(20,20,10,0.58)"/><rect x="496.3" y="163.80" width="1.3" height="13.10" fill="rgba(30,50,20,0.55)"/><rect x="497.4" y="168.05" width="87.65" height="4.75" fill="#000"/>
<text class="l" x="376.7" y="173">Wheat</text>
<text class="v" x="681.9" y="173">4.21</text>
<rect x="374.3" y="177.10" width="311.3" height="14.2" fill="#2e6693"/>
<text class="h" x="375.0" y="189">Fish / Seafood</text>
<rect x="496.7" y="194.80" width="27.25" height="12.60" fill="#d0fbb7"/><rect x="523.9" y="194.80" width="41.10" height="12.60" fill="#fffca6"/><rect x="565.0" y="194.80" width="40.90" height="12.60" fill="#fec994"/><rect x="605.8" y="194.80" width="27.55" height="12.60" fill="#fea96c"/><rect x="633.2" y="194.80" width="1.5" height="13.10" fill="#a4245f"/><rect x="496.3" y="206.90" width="137.0" height="1" fill="rgba(20,20,10,0.58)"/><rect x="496.3" y="194.80" width="1.3" height="13.10" fill="rgba(30,50,20,0.55)"/><rect x="497.4" y="199.05" width="3.26" height="4.75" fill="#000"/>
<text class="l" x="376.7" y="205">Cod Fish</text>
<text class="v" x="681.9" y="205">1.13</text>
<rect x="496.7" y="211.30" width="27.25" height="12.60" fill="#d0fbb7"/><rect x="523.9" y="211.30" width="41.10" height="12.60" fill="#fffca6"/><rect x="565.0" y="211.30" width="40.90" height="12.60" fill="#fec994"/><rect x="605.8" y="211.30" width="27.55" height="12.60" fill="#fea96c"/><rect x="633.2" y="211.30" width="1.5" height="13.10" fill="#a4245f"/><rect x="496.3" y="223.40" width="137.0" height="1" fill="rgba(20,20,10,0.58)"/><rect x="496.3" y="211.30" width="1.3" height="13.10" fill="rgba(30,50,20,0.55)"/><rect x="497.4" y="215.55" width="10.39" height="4.75" fill="#000"/>
<text class="l" x="376.7" y="221">Crab</text>
<text class="v" x="681.9" y="221">1.39</text>
<rect x="496.7" y="227.80" width="27.25" height="12.60" fill="#d0fbb7"/><rect x="523.9" y="227.80" width="41.10" height="12.60" fill="#fffca6"/><rect x="565.0" y="227.80" width="40.90" height="12.60" fill="#fec994"/><rect x="605.8" y="227.80" width="27.55" height="12.60" fill="#fea96c"/><rect x="633.2" y="227.80" width="1.5" height="13.10" fill="#a4245f"/><rect x="496.3" y="239.90" width="137.0" height="1" fill="rgba(20,20,10,0.58)"/><rect x="496.3" y="227.80" width="1.3" height="13.10" fill="rgba(30,50,20,0.55)"/><rect x="497.4" y="232.05" width="13.95" height="4.75" fill="#000"/>
<text class="l" x="376.7" y="238">Halibut</text>
<text class="v" x="681.9" y="238">1.52</text>
<rect x="496.7" y="244.30" width="27.25" height="12.60" fill="#d0fbb7"/><rect x="523.9" y="244.30" width="41.10" height="12.60" fill="#fffca6"/><rect x="565.0" y="244.30" width="40.90" height="12.60" fill="#fec994"/><rect x="605.8" y="244.30" width="27.55" height="12.60" fill="#fea96c"/><rect x="633.2" y="244.30" width="1.5" height="13.10" fill="#a4245f"/><rect x="496.3" y="256.40" width="137.0" height="1" fill="rgba(20,20,10,0.58)"/><rect x="496.3" y="244.30" width="1.3" height="13.10" fill="rgba(30,50,20,0.55)"/><rect x="497.4" y="248.55" width="15.59" height="4.75" fill="#000"/>
<text class="l" x="376.7" y="254">Lobster</text>
<text class="v" x="681.9" y="254">1.58</text>
<rect x="496.7" y="260.80" width="27.25" height="12.60" fill="#d0fbb7"/><rect x="523.9" y="260.80" width="41.10" height="12.60" fill="#fffca6"/><rect x="565.0" y="260.80" width="40.90" height="12.60" fill="#fec994"/><rect x="605.8" y="260.80" width="27.55" height="12.60" fill="#fea96c"/><rect x="633.2" y="260.80" width="1.5" height="13.10" fill="#a4245f"/><rect x="496.3" y="272.90" width="137.0" height="1" fill="rgba(20,20,10,0.58)"/><rect x="496.3" y="260.80" width="1.3" height="13.10" fill="rgba(30,50,20,0.55)"/><rect x="497.4" y="265.05" width="19.98" height="4.75" fill="#000"/>
<text class="l" x="376.7" y="271">Salmon</text>
<text class="v" x="681.9" y="271">1.74</text>
<rect x="496.7" y="277.30" width="27.25" height="12.60" fill="#d0fbb7"/><rect x="523.9" y="277.30" width="41.10" height="12.60" fill="#fffca6"/><rect x="565.0" y="277.30" width="40.90" height="12.60" fill="#fec994"/><rect x="605.8" y="277.30" width="27.55" height="12.60" fill="#fea96c"/><rect x="633.2" y="277.30" width="1.5" height="13.10" fill="#a4245f"/><rect x="496.3" y="289.40" width="137.0" height="1" fill="rgba(20,20,10,0.58)"/><rect x="496.3" y="277.30" width="1.3" height="13.10" fill="rgba(30,50,20,0.55)"/>
<text class="l" x="376.7" y="287">Sardine</text>
<text class="v" x="681.9" y="287">0.97</text>
<rect x="496.7" y="293.80" width="27.25" height="12.60" fill="#d0fbb7"/><rect x="523.9" y="293.80" width="41.10" height="12.60" fill="#fffca6"/><rect x="565.0" y="293.80" width="40.90" height="12.60" fill="#fec994"/><rect x="605.8" y="293.80" width="27.55" height="12.60" fill="#fea96c"/><rect x="633.2" y="293.80" width="1.5" height="13.10" fill="#a4245f"/><rect x="496.3" y="305.90" width="137.0" height="1" fill="rgba(20,20,10,0.58)"/><rect x="496.3" y="293.80" width="1.3" height="13.10" fill="rgba(30,50,20,0.55)"/><rect x="497.4" y="298.05" width="4.08" height="4.75" fill="#000"/>
<text class="l" x="376.7" y="303">Shrimp</text>
<text class="v" x="681.9" y="303">1.16</text>
<rect x="496.7" y="310.30" width="27.25" height="12.60" fill="#d0fbb7"/><rect x="523.9" y="310.30" width="41.10" height="12.60" fill="#fffca6"/><rect x="565.0" y="310.30" width="40.90" height="12.60" fill="#fec994"/><rect x="605.8" y="310.30" width="27.55" height="12.60" fill="#fea96c"/><rect x="633.2" y="310.30" width="1.5" height="13.10" fill="#a4245f"/><rect x="496.3" y="322.40" width="137.0" height="1" fill="rgba(20,20,10,0.58)"/><rect x="496.3" y="310.30" width="1.3" height="13.10" fill="rgba(30,50,20,0.55)"/><rect x="497.4" y="314.55" width="21.35" height="4.75" fill="#000"/>
<text class="l" x="376.7" y="320">Tuna</text>
<text class="v" x="681.9" y="320">1.79</text>
<rect x="374.3" y="323.60" width="311.3" height="14.2" fill="#2e6693"/>
<text class="h" x="375.0" y="335">Meat/Fowl</text>
<rect x="496.7" y="341.30" width="27.25" height="12.60" fill="#d0fbb7"/><rect x="523.9" y="341.30" width="41.10" height="12.60" fill="#fffca6"/><rect x="565.0" y="341.30" width="40.90" height="12.60" fill="#fec994"/><rect x="605.8" y="341.30" width="27.55" height="12.60" fill="#fea96c"/><rect x="633.2" y="341.30" width="1.5" height="13.10" fill="#a4245f"/><rect x="496.3" y="353.40" width="137.0" height="1" fill="rgba(20,20,10,0.58)"/><rect x="496.3" y="341.30" width="1.3" height="13.10" fill="rgba(30,50,20,0.55)"/><rect x="497.4" y="345.55" width="3.81" height="4.75" fill="#000"/>
<text class="l" x="376.7" y="352">Beef</text>
<text class="v" x="681.9" y="352">1.15</text>
<rect x="496.7" y="357.80" width="27.25" height="12.60" fill="#d0fbb7"/><rect x="523.9" y="357.80" width="41.10" height="12.60" fill="#fffca6"/><rect x="565.0" y="357.80" width="40.90" height="12.60" fill="#fec994"/><rect x="605.8" y="357.80" width="27.55" height="12.60" fill="#fea96c"/><rect x="633.2" y="357.80" width="1.5" height="13.10" fill="#a4245f"/><rect x="496.3" y="369.90" width="137.0" height="1" fill="rgba(20,20,10,0.58)"/><rect x="496.3" y="357.80" width="1.3" height="13.10" fill="rgba(30,50,20,0.55)"/><rect x="497.4" y="362.05" width="24.09" height="4.75" fill="#000"/>
<text class="l" x="376.7" y="368">Chicken</text>
<text class="v" x="681.9" y="368">1.89</text>
<rect x="496.7" y="374.30" width="27.25" height="12.60" fill="#d0fbb7"/><rect x="523.9" y="374.30" width="41.10" height="12.60" fill="#fffca6"/><rect x="565.0" y="374.30" width="40.90" height="12.60" fill="#fec994"/><rect x="605.8" y="374.30" width="27.55" height="12.60" fill="#fea96c"/><rect x="633.2" y="374.30" width="1.5" height="13.10" fill="#a4245f"/><rect x="496.3" y="386.40" width="137.0" height="1" fill="rgba(20,20,10,0.58)"/><rect x="496.3" y="374.30" width="1.3" height="13.10" fill="rgba(30,50,20,0.55)"/><rect x="497.4" y="378.55" width="62.72" height="4.75" fill="#000"/>
<text class="l" x="376.7" y="384">Egg White</text>
<text class="v" x="681.9" y="384">3.30</text>
<rect x="496.7" y="390.80" width="27.25" height="12.60" fill="#d0fbb7"/><rect x="523.9" y="390.80" width="41.10" height="12.60" fill="#fffca6"/><rect x="565.0" y="390.80" width="40.90" height="12.60" fill="#fec994"/><rect x="605.8" y="390.80" width="27.55" height="12.60" fill="#fea96c"/><rect x="633.2" y="390.80" width="1.5" height="13.10" fill="#a4245f"/><rect x="496.3" y="402.90" width="137.0" height="1" fill="rgba(20,20,10,0.58)"/><rect x="496.3" y="390.80" width="1.3" height="13.10" fill="rgba(30,50,20,0.55)"/><rect x="497.4" y="395.05" width="67.38" height="4.75" fill="#000"/>
<text class="l" x="376.7" y="401">Egg Yolk</text>
<text class="v" x="681.9" y="401">3.47</text>
<rect x="496.7" y="407.30" width="27.25" height="12.60" fill="#d0fbb7"/><rect x="523.9" y="407.30" width="41.10" height="12.60" fill="#fffca6"/><rect x="565.0" y="407.30" width="40.90" height="12.60" fill="#fec994"/><rect x="605.8" y="407.30" width="27.55" height="12.60" fill="#fea96c"/><rect x="633.2" y="407.30" width="1.5" height="13.10" fill="#a4245f"/><rect x="496.3" y="419.40" width="137.0" height="1" fill="rgba(20,20,10,0.58)"/><rect x="496.3" y="407.30" width="1.3" height="13.10" fill="rgba(30,50,20,0.55)"/><rect x="497.4" y="411.55" width="17.51" height="4.75" fill="#000"/>
<text class="l" x="376.7" y="417">Lamb</text>
<text class="v" x="681.9" y="417">1.65</text>
<rect x="496.7" y="423.80" width="27.25" height="12.60" fill="#d0fbb7"/><rect x="523.9" y="423.80" width="41.10" height="12.60" fill="#fffca6"/><rect x="565.0" y="423.80" width="40.90" height="12.60" fill="#fec994"/><rect x="605.8" y="423.80" width="27.55" height="12.60" fill="#fea96c"/><rect x="633.2" y="423.80" width="1.5" height="13.10" fill="#a4245f"/><rect x="496.3" y="435.90" width="137.0" height="1" fill="rgba(20,20,10,0.58)"/><rect x="496.3" y="423.80" width="1.3" height="13.10" fill="rgba(30,50,20,0.55)"/><rect x="497.4" y="428.05" width="16.69" height="4.75" fill="#000"/>
<text class="l" x="376.7" y="434">Pork</text>
<text class="v" x="681.9" y="434">1.62</text>
<rect x="496.7" y="440.30" width="27.25" height="12.60" fill="#d0fbb7"/><rect x="523.9" y="440.30" width="41.10" height="12.60" fill="#fffca6"/><rect x="565.0" y="440.30" width="40.90" height="12.60" fill="#fec994"/><rect x="605.8" y="440.30" width="27.55" height="12.60" fill="#fea96c"/><rect x="633.2" y="440.30" width="1.5" height="13.10" fill="#a4245f"/><rect x="496.3" y="452.40" width="137.0" height="1" fill="rgba(20,20,10,0.58)"/><rect x="496.3" y="440.30" width="1.3" height="13.10" fill="rgba(30,50,20,0.55)"/><rect x="497.4" y="444.55" width="12.58" height="4.75" fill="#000"/>
<text class="l" x="376.7" y="450">Turkey</text>
<text class="v" x="681.9" y="450">1.47</text>
<rect x="374.3" y="453.60" width="311.3" height="14.2" fill="#2e6693"/>
<text class="h" x="375.0" y="465">Nuts and Seeds</text>
<rect x="496.7" y="471.30" width="27.25" height="12.60" fill="#d0fbb7"/><rect x="523.9" y="471.30" width="41.10" height="12.60" fill="#fffca6"/><rect x="565.0" y="471.30" width="40.90" height="12.60" fill="#fec994"/><rect x="605.8" y="471.30" width="27.55" height="12.60" fill="#fea96c"/><rect x="633.2" y="471.30" width="1.5" height="13.10" fill="#a4245f"/><rect x="496.3" y="483.40" width="137.0" height="1" fill="rgba(20,20,10,0.58)"/><rect x="496.3" y="471.30" width="1.3" height="13.10" fill="rgba(30,50,20,0.55)"/><rect x="497.4" y="475.55" width="11.21" height="4.75" fill="#000"/>
<text class="l" x="376.7" y="482">Almond</text>
<text class="v" x="681.9" y="482">1.42</text>
<rect x="496.7" y="487.80" width="27.25" height="12.60" fill="#d0fbb7"/><rect x="523.9" y="487.80" width="41.10" height="12.60" fill="#fffca6"/><rect x="565.0" y="487.80" width="40.90" height="12.60" fill="#fec994"/><rect x="605.8" y="487.80" width="27.55" height="12.60" fill="#fea96c"/><rect x="633.2" y="487.80" width="1.5" height="13.10" fill="#a4245f"/><rect x="496.3" y="499.90" width="137.0" height="1" fill="rgba(20,20,10,0.58)"/><rect x="496.3" y="487.80" width="1.3" height="13.10" fill="rgba(30,50,20,0.55)"/><rect x="497.4" y="492.05" width="7.92" height="4.75" fill="#000"/>
<text class="l" x="376.7" y="498">Cashews</text>
<text class="v" x="681.9" y="498">1.30</text>
<rect x="496.7" y="504.30" width="27.25" height="12.60" fill="#d0fbb7"/><rect x="523.9" y="504.30" width="41.10" height="12.60" fill="#fffca6"/><rect x="565.0" y="504.30" width="40.90" height="12.60" fill="#fec994"/><rect x="605.8" y="504.30" width="27.55" height="12.60" fill="#fea96c"/><rect x="633.2" y="504.30" width="1.5" height="13.10" fill="#a4245f"/><rect x="496.3" y="516.40" width="137.0" height="1" fill="rgba(20,20,10,0.58)"/><rect x="496.3" y="504.30" width="1.3" height="13.10" fill="rgba(30,50,20,0.55)"/><rect x="497.4" y="508.55" width="5.18" height="4.75" fill="#000"/>
<text class="l" x="376.7" y="515">Flax</text>
<text class="v" x="681.9" y="515">1.20</text>
<rect x="496.7" y="520.80" width="27.25" height="12.60" fill="#d0fbb7"/><rect x="523.9" y="520.80" width="41.10" height="12.60" fill="#fffca6"/><rect x="565.0" y="520.80" width="40.90" height="12.60" fill="#fec994"/><rect x="605.8" y="520.80" width="27.55" height="12.60" fill="#fea96c"/><rect x="633.2" y="520.80" width="1.5" height="13.10" fill="#a4245f"/><rect x="496.3" y="532.90" width="137.0" height="1" fill="rgba(20,20,10,0.58)"/><rect x="496.3" y="520.80" width="1.3" height="13.10" fill="rgba(30,50,20,0.55)"/><rect x="497.4" y="525.05" width="0.30" height="4.75" fill="#000"/>
<text class="l" x="376.7" y="531">Hazelnut</text>
<text class="v" x="681.9" y="531">1.02</text>
<rect x="496.7" y="537.30" width="27.25" height="12.60" fill="#d0fbb7"/><rect x="523.9" y="537.30" width="41.10" height="12.60" fill="#fffca6"/><rect x="565.0" y="537.30" width="40.90" height="12.60" fill="#fec994"/><rect x="605.8" y="537.30" width="27.55" height="12.60" fill="#fea96c"/><rect x="633.2" y="537.30" width="1.5" height="13.10" fill="#a4245f"/><rect x="496.3" y="549.40" width="137.0" height="1" fill="rgba(20,20,10,0.58)"/><rect x="496.3" y="537.30" width="1.3" height="13.10" fill="rgba(30,50,20,0.55)"/><rect x="497.4" y="541.55" width="14.22" height="4.75" fill="#000"/>
<text class="l" x="376.7" y="548">Peanut</text>
<text class="v" x="681.9" y="548">1.53</text>
<rect x="496.7" y="553.80" width="27.25" height="12.60" fill="#d0fbb7"/><rect x="523.9" y="553.80" width="41.10" height="12.60" fill="#fffca6"/><rect x="565.0" y="553.80" width="40.90" height="12.60" fill="#fec994"/><rect x="605.8" y="553.80" width="27.55" height="12.60" fill="#fea96c"/><rect x="633.2" y="553.80" width="1.5" height="13.10" fill="#a4245f"/><rect x="496.3" y="565.90" width="137.0" height="1" fill="rgba(20,20,10,0.58)"/><rect x="496.3" y="553.80" width="1.3" height="13.10" fill="rgba(30,50,20,0.55)"/><rect x="497.4" y="558.05" width="3.54" height="4.75" fill="#000"/>
<text class="l" x="376.7" y="564">Pecan</text>
<text class="v" x="681.9" y="564">1.14</text>
<rect x="496.7" y="570.30" width="27.25" height="12.60" fill="#d0fbb7"/><rect x="523.9" y="570.30" width="41.10" height="12.60" fill="#fffca6"/><rect x="565.0" y="570.30" width="40.90" height="12.60" fill="#fec994"/><rect x="605.8" y="570.30" width="27.55" height="12.60" fill="#fea96c"/><rect x="633.2" y="570.30" width="1.5" height="13.10" fill="#a4245f"/><rect x="496.3" y="582.40" width="137.0" height="1" fill="rgba(20,20,10,0.58)"/><rect x="496.3" y="570.30" width="1.3" height="13.10" fill="rgba(30,50,20,0.55)"/><rect x="497.4" y="574.55" width="9.84" height="4.75" fill="#000"/>
<text class="l" x="376.7" y="581">Pistachio</text>
<text class="v" x="681.9" y="581">1.37</text>
<rect x="496.7" y="586.80" width="27.25" height="12.60" fill="#d0fbb7"/><rect x="523.9" y="586.80" width="41.10" height="12.60" fill="#fffca6"/><rect x="565.0" y="586.80" width="40.90" height="12.60" fill="#fec994"/><rect x="605.8" y="586.80" width="27.55" height="12.60" fill="#fea96c"/><rect x="633.2" y="586.80" width="1.5" height="13.10" fill="#a4245f"/><rect x="496.3" y="598.90" width="137.0" height="1" fill="rgba(20,20,10,0.58)"/><rect x="496.3" y="586.80" width="1.3" height="13.10" fill="rgba(30,50,20,0.55)"/><rect x="497.4" y="591.05" width="2.71" height="4.75" fill="#000"/>
<text class="l" x="376.7" y="597">Sesame</text>
<text class="v" x="681.9" y="597">1.11</text>
<rect x="496.7" y="603.30" width="27.25" height="12.60" fill="#d0fbb7"/><rect x="523.9" y="603.30" width="41.10" height="12.60" fill="#fffca6"/><rect x="565.0" y="603.30" width="40.90" height="12.60" fill="#fec994"/><rect x="605.8" y="603.30" width="27.55" height="12.60" fill="#fea96c"/><rect x="633.2" y="603.30" width="1.5" height="13.10" fill="#a4245f"/><rect x="496.3" y="615.40" width="137.0" height="1" fill="rgba(20,20,10,0.58)"/><rect x="496.3" y="603.30" width="1.3" height="13.10" fill="rgba(30,50,20,0.55)"/><rect x="497.4" y="607.55" width="5.45" height="4.75" fill="#000"/>
<text class="l" x="376.7" y="613">Sunflower</text>
<text class="v" x="681.9" y="613">1.21</text>
<rect x="496.7" y="619.80" width="27.25" height="12.60" fill="#d0fbb7"/><rect x="523.9" y="619.80" width="41.10" height="12.60" fill="#fffca6"/><rect x="565.0" y="619.80" width="40.90" height="12.60" fill="#fec994"/><rect x="605.8" y="619.80" width="27.55" height="12.60" fill="#fea96c"/><rect x="633.2" y="619.80" width="1.5" height="13.10" fill="#a4245f"/><rect x="496.3" y="631.90" width="137.0" height="1" fill="rgba(20,20,10,0.58)"/><rect x="496.3" y="619.80" width="1.3" height="13.10" fill="rgba(30,50,20,0.55)"/><rect x="497.4" y="624.05" width="7.10" height="4.75" fill="#000"/>
<text class="l" x="376.7" y="630">Walnut</text>
<text class="v" x="681.9" y="630">1.27</text>
<rect x="374.3" y="633.10" width="311.3" height="14.2" fill="#2e6693"/>
<text class="h" x="375.0" y="645">Vegetables</text>
<rect x="496.7" y="650.80" width="27.25" height="12.60" fill="#d0fbb7"/><rect x="523.9" y="650.80" width="41.10" height="12.60" fill="#fffca6"/><rect x="565.0" y="650.80" width="40.90" height="12.60" fill="#fec994"/><rect x="605.8" y="650.80" width="27.55" height="12.60" fill="#fea96c"/><rect x="633.2" y="650.80" width="1.5" height="13.10" fill="#a4245f"/><rect x="496.3" y="662.90" width="137.0" height="1" fill="rgba(20,20,10,0.58)"/><rect x="496.3" y="650.80" width="1.3" height="13.10" fill="rgba(30,50,20,0.55)"/><rect x="497.4" y="655.05" width="9.56" height="4.75" fill="#000"/>
<text class="l" x="376.7" y="662">Asparagus</text>
<text class="v" x="681.9" y="662">1.36</text>
<rect x="496.7" y="667.30" width="27.25" height="12.60" fill="#d0fbb7"/><rect x="523.9" y="667.30" width="41.10" height="12.60" fill="#fffca6"/><rect x="565.0" y="667.30" width="40.90" height="12.60" fill="#fec994"/><rect x="605.8" y="667.30" width="27.55" height="12.60" fill="#fea96c"/><rect x="633.2" y="667.30" width="1.5" height="13.10" fill="#a4245f"/><rect x="496.3" y="679.40" width="137.0" height="1" fill="rgba(20,20,10,0.58)"/><rect x="496.3" y="667.30" width="1.3" height="13.10" fill="rgba(30,50,20,0.55)"/><rect x="497.4" y="671.55" width="13.13" height="4.75" fill="#000"/>
<text class="l" x="376.7" y="678">Avocado</text>
<text class="v" x="681.9" y="678">1.49</text>
</svg>
</body></html>
